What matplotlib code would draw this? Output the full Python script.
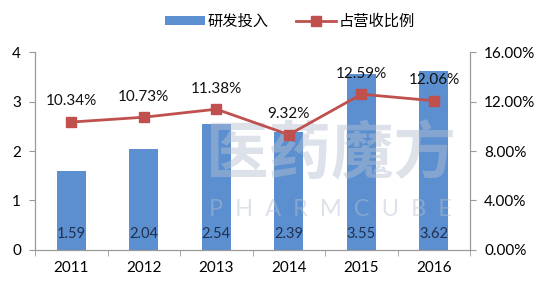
import matplotlib.pyplot as plt
import numpy as np

plt.rcParams['font.family'] = ['Lato', 'Noto Sans CJK SC', 'DejaVu Sans']

# 年份与数据
years = ['2011', '2012', '2013', '2014', '2015', '2016']
rd_invest = [1.59, 2.04, 2.54, 2.39, 3.55, 3.62]
rd_ratio = [10.34, 10.73, 11.38, 9.32, 12.59, 12.06]

fig = plt.figure(figsize=(5.42, 2.89), dpi=100)
ax = fig.add_axes([0.0646, 0.135, 0.803, 0.685])
ax2 = ax.twinx()

x = np.arange(len(years))

# 水印
fig.text(0.61, 0.465, '医药魔方', fontsize=45, color='#b4c0d2', alpha=0.45,
         ha='center', va='center', fontweight='bold', family='Noto Sans CJK SC', zorder=0)
fig.text(0.61, 0.275, 'P  H  A  R  M  C  U  B  E', fontsize=17, color='#b4c0d2', alpha=0.45,
         ha='center', va='center', zorder=0)

bars = ax.bar(x, rd_invest, width=0.4, color='#5b8fd0', label='研发投入', zorder=2)
for xi, v in zip(x, rd_invest):
    ax.text(xi, 0.32, f'{v:.2f}', ha='center', va='center', fontsize=10.5,
            color='#1f3050', zorder=3)

ax2.plot(x, rd_ratio, color='#c0504d', marker='s', markersize=7, linewidth=2,
         label='占营收比例', zorder=4)
for xi, v in zip(x, rd_ratio):
    ax2.text(xi, v + 1.1, f'{v:.2f}%', ha='center', va='bottom', fontsize=11,
             color='#111111')

ax.set_xlim(-0.5, len(years) - 0.5)
ax.set_ylim(0, 4)
ax.set_yticks([0, 1, 2, 3, 4])
ax2.set_ylim(0, 16)
ax2.set_yticks([0, 4, 8, 12, 16])
ax2.set_yticklabels([f'{t:.2f}%' for t in [0, 4, 8, 12, 16]])

ax.set_xticks(x)
ax.set_xticklabels(years)
ax.set_xticks(np.arange(-0.5, len(years), 1), minor=True)
ax.tick_params(axis='x', which='major', length=0, pad=8, labelsize=11)
ax.tick_params(axis='x', which='minor', length=4, color='#999999')
ax.tick_params(axis='y', length=4, color='#999999', labelsize=11, pad=6)
ax2.tick_params(axis='y', length=4, color='#999999', labelsize=11, pad=6)

for a in (ax, ax2):
    a.spines['top'].set_visible(False)
    for s in ('left', 'right', 'bottom'):
        a.spines[s].set_color('#999999')

ax2.set_zorder(ax.get_zorder() + 1)
ax2.patch.set_visible(False)

h1, l1 = ax.get_legend_handles_labels()
h2, l2 = ax2.get_legend_handles_labels()
fig.legend(h1 + h2, l1 + l2, loc='center', bbox_to_anchor=(0.535, 0.925), ncol=2,
           frameon=False, fontsize=11, handlelength=2.6, handleheight=0.5,
           columnspacing=1.8, handletextpad=0.2)

fig.savefig('out.png', dpi=100)
